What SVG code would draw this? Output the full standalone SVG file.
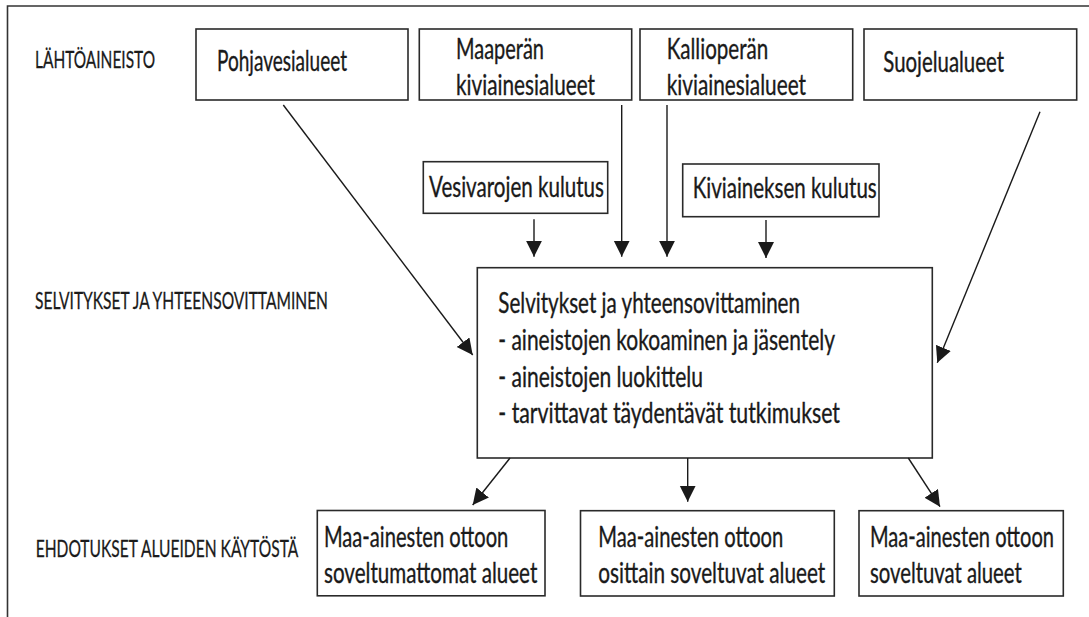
<svg xmlns="http://www.w3.org/2000/svg" width="1089" height="617" viewBox="0 0 1089 617">
<style>
  .box { fill: #ffffff; stroke: #2a2a2a; stroke-width: 1.6; }
  .frame { fill: none; stroke: #333333; stroke-width: 1.6; }
  .t { font-family: Lato, "Liberation Sans", sans-serif; font-size: 28px; fill: #1a1a1a; stroke: #1a1a1a; stroke-width: 0.35; }
  .lbl { font-family: Lato, "Liberation Sans", sans-serif; font-size: 24px; fill: #1a1a1a; stroke: #1a1a1a; stroke-width: 0.3; }
  .conn { fill: none; stroke: #1a1a1a; stroke-width: 1.4; marker-end: url(#arrow); }
</style>
<defs>
  <marker id="arrow" markerUnits="userSpaceOnUse" markerWidth="17" markerHeight="17" refX="16" refY="8" orient="auto">
    <path d="M0,0 L16,8 L0,16 Z" fill="#1a1a1a"/>
  </marker>
</defs>
<rect width="1089" height="617" fill="#ffffff"/>
<path class="frame" d="M7.5,617 L7.5,6 L1089,6"/>

<g id="labels">
  <text class="lbl" x="35" y="68" textLength="120" lengthAdjust="spacingAndGlyphs">LÄHTÖAINEISTO</text>
  <text class="lbl" x="35" y="309.3" textLength="293" lengthAdjust="spacingAndGlyphs">SELVITYKSET JA YHTEENSOVITTAMINEN</text>
  <text class="lbl" x="35.7" y="556.7" textLength="262.6" lengthAdjust="spacingAndGlyphs">EHDOTUKSET ALUEIDEN KÄYTÖSTÄ</text>
</g>

<g id="pohjavesialueet">
  <rect class="box" x="196" y="29" width="212" height="71"/>
  <text class="t" x="217" y="70.7" textLength="130" lengthAdjust="spacingAndGlyphs">Pohjavesialueet</text>
</g>
<g id="maaperan">
  <rect class="box" x="419.3" y="29" width="212.4" height="71"/>
  <text class="t" x="456" y="59.3" textLength="88" lengthAdjust="spacingAndGlyphs">Maaperän</text>
  <text class="t" x="456" y="95" textLength="139" lengthAdjust="spacingAndGlyphs">kiviainesialueet</text>
</g>
<g id="kallioperan">
  <rect class="box" x="640" y="29" width="212.7" height="71"/>
  <text class="t" x="666.7" y="59.3" textLength="101.6" lengthAdjust="spacingAndGlyphs">Kallioperän</text>
  <text class="t" x="666.7" y="95" textLength="139.3" lengthAdjust="spacingAndGlyphs">kiviainesialueet</text>
</g>
<g id="suojelualueet">
  <rect class="box" x="864" y="29" width="212.7" height="71"/>
  <text class="t" x="883.3" y="71.5" textLength="120.7" lengthAdjust="spacingAndGlyphs">Suojelualueet</text>
</g>
<g id="vesivarojen">
  <rect class="box" x="423.3" y="161.7" width="184.4" height="51.6"/>
  <text class="t" x="429" y="196.7" textLength="175" lengthAdjust="spacingAndGlyphs">Vesivarojen kulutus</text>
</g>
<g id="kiviaineksen">
  <rect class="box" x="682.7" y="164" width="196.3" height="52.7"/>
  <text class="t" x="692.7" y="198" textLength="184" lengthAdjust="spacingAndGlyphs">Kiviaineksen kulutus</text>
</g>
<g id="selvitykset">
  <rect class="box" x="477.3" y="267.7" width="455" height="190.3"/>
  <text class="t" x="498.3" y="313.3" textLength="301.7" lengthAdjust="spacingAndGlyphs">Selvitykset ja yhteensovittaminen</text>
  <text class="t" x="498.3" y="350" textLength="336.7" lengthAdjust="spacingAndGlyphs">- aineistojen kokoaminen ja jäsentely</text>
  <text class="t" x="498.3" y="386.7" textLength="204.7" lengthAdjust="spacingAndGlyphs">- aineistojen luokittelu</text>
  <text class="t" x="498.3" y="423.3" textLength="341.7" lengthAdjust="spacingAndGlyphs">- tarvittavat täydentävät tutkimukset</text>
</g>
<g id="soveltumattomat">
  <rect class="box" x="317.3" y="510.5" width="227.7" height="85.3"/>
  <text class="t" x="324" y="547" textLength="184.3" lengthAdjust="spacingAndGlyphs">Maa-ainesten ottoon</text>
  <text class="t" x="324" y="583.3" textLength="213.3" lengthAdjust="spacingAndGlyphs">soveltumattomat alueet</text>
</g>
<g id="osittain">
  <rect class="box" x="580.5" y="510.7" width="253.8" height="85.3"/>
  <text class="t" x="598.3" y="547" textLength="185" lengthAdjust="spacingAndGlyphs">Maa-ainesten ottoon</text>
  <text class="t" x="598.3" y="583.3" textLength="227" lengthAdjust="spacingAndGlyphs">osittain soveltuvat alueet</text>
</g>
<g id="soveltuvat">
  <rect class="box" x="859" y="510.7" width="204.3" height="85.3"/>
  <text class="t" x="870" y="547" textLength="184" lengthAdjust="spacingAndGlyphs">Maa-ainesten ottoon</text>
  <text class="t" x="870" y="583.3" textLength="151.7" lengthAdjust="spacingAndGlyphs">soveltuvat alueet</text>
</g>

<g id="connectors">
  <line class="conn" x1="283.3" y1="105" x2="472.7" y2="355"/>
  <line class="conn" x1="621.7" y1="105" x2="621.7" y2="256.7"/>
  <line class="conn" x1="667" y1="105" x2="667" y2="256.7"/>
  <line class="conn" x1="1040" y1="111.7" x2="937.3" y2="362.7"/>
  <line class="conn" x1="534" y1="219.3" x2="534" y2="256.7"/>
  <line class="conn" x1="766" y1="220" x2="766" y2="258"/>
  <line class="conn" x1="510" y1="458" x2="472.7" y2="505"/>
  <line class="conn" x1="687.7" y1="458" x2="687.7" y2="501.7"/>
  <line class="conn" x1="908.3" y1="458" x2="940" y2="506.7"/>
</g>
</svg>
